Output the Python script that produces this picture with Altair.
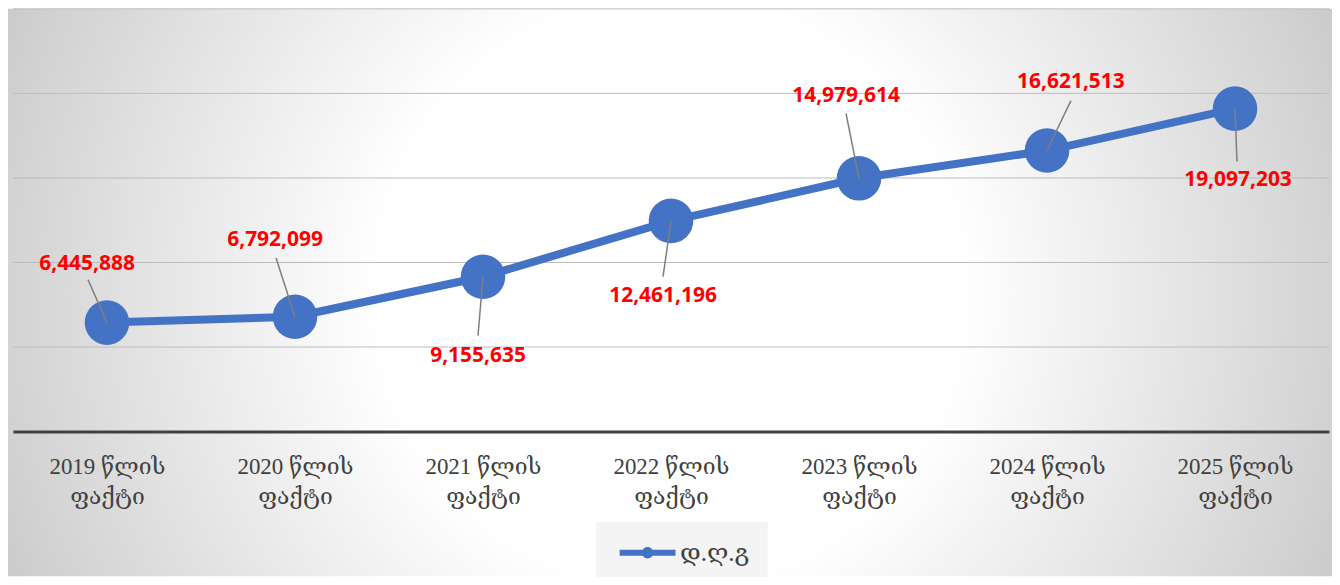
import json
import altair as alt
import pandas as pd

# ---- data -------------------------------------------------------------
years = ["2019", "2020", "2021", "2022", "2023", "2024", "2025"]
category_line1 = [f"{y} წლის" for y in years]
category_line2 = ["ფაქტი"] * 7
values = [6445888, 6792099, 9155635, 12461196, 14979614, 16621513, 19097203]
series_name = "დ.ღ.გ"
grid_values = [5_000_000, 10_000_000, 15_000_000, 20_000_000, 25_000_000]

# label placement (pixel offsets from the point; layout only)
label_dx = [-20, -20, -5, -8, -13, 24, 3]
label_dy = [-59, -77, 79, 75, -83, -69, 72]
leader_dx = [-19, -19, -5, -8, -13, 24, 2]
leader_dy = [-43, -59, 59, 56, -65, -50, 53]

# ---- layout -----------------------------------------------------------
W, H = 1320, 424
Y_MAX = 25_000_000
X_MIN, X_MAX = -0.5, 6.5
px_x = (X_MAX - X_MIN) / W
px_y = Y_MAX / H

df = pd.DataFrame({
    "idx": list(range(len(years))),
    "value": values,
    "series": [series_name] * len(years),
})
df["lab_x"] = df["idx"] + pd.Series(label_dx) * px_x
df["lab_y"] = df["value"] - pd.Series(label_dy) * px_y
df["lead_x"] = df["idx"] + pd.Series(leader_dx) * px_x
df["lead_y"] = df["value"] - pd.Series(leader_dy) * px_y

labels_arr = [[a, b] for a, b in zip(category_line1, category_line2)]
label_expr = json.dumps(labels_arr, ensure_ascii=False) + "[datum.value]"

x_scale = alt.Scale(domain=[X_MIN, X_MAX], nice=False, zero=False)
y_scale = alt.Scale(domain=[0, Y_MAX], nice=False)

BLUE = "#4472C4"
SERIF = "Liberation Serif, DejaVu Serif, serif"

base = alt.Chart(df)

bg = alt.Chart(pd.DataFrame({"a": [0]})).mark_rect(
    color=alt.RadialGradient(
        gradient="radial",
        x1=0.5, y1=0.5, r1=0,
        x2=0.5, y2=0.5, r2=0.55,
        stops=[
            alt.GradientStop(color="#ffffff", offset=0),
            alt.GradientStop(color="#ffffff", offset=0.4),
            alt.GradientStop(color="#e8e8e8", offset=0.67),
            alt.GradientStop(color="#d2d2d2", offset=0.92),
            alt.GradientStop(color="#cacaca", offset=1),
        ],
    )
).encode(
    x=alt.value(-5), x2=alt.value(W + 3),
    y=alt.value(0), y2=alt.value(H + 145),
)

grid = alt.Chart(pd.DataFrame({"g": grid_values})).mark_rule(
    color="#bdbdbd", strokeWidth=1
).encode(
    y=alt.Y("g:Q", scale=y_scale, axis=None),
    x=alt.value(0), x2=alt.value(W),
)

line = base.mark_line(color=BLUE, strokeWidth=8).encode(
    x=alt.X("idx:Q", scale=x_scale,
            axis=alt.Axis(values=list(range(len(years))), labelExpr=label_expr,
                          title=None, grid=False, ticks=False, tickSize=0,
                          domain=True, domainColor="#404040", domainWidth=3,
                          labelFont=SERIF, labelFontSize=23, labelColor="#404040",
                          labelLineHeight=30, labelPadding=24, labelFlush=False,
                          labelOverlap=False, labelBound=False, zindex=1)),
    y=alt.Y("value:Q", scale=y_scale, axis=None),
)

legend_path = ("M-4.67,-0.5L4.67,-0.5L4.67,0.5L-4.67,0.5Z"
               "M0.95,0A0.95,0.95 0 1,1 -0.95,0A0.95,0.95 0 1,1 0.95,0Z")

points = base.mark_circle(size=2000, opacity=1).encode(
    x=alt.X("idx:Q", scale=x_scale),
    y=alt.Y("value:Q", scale=y_scale, axis=None),
    color=alt.Color("series:N",
                    scale=alt.Scale(domain=[series_name], range=[BLUE]),
                    legend=alt.Legend(title=None, orient="none",
                                      legendX=585, legendY=515,
                                      symbolType=legend_path, symbolSize=144,
                                      symbolStrokeWidth=0, symbolOpacity=1,
                                      symbolFillColor=BLUE,
                                      fillColor="#f4f4f4", padding=18,
                                      symbolOffset=21, labelOffset=20,
                                      labelFont=SERIF, labelFontSize=25,
                                      labelColor="#404040")),
)

leaders = base.mark_rule(color="#7f7f7f", strokeWidth=1.5).encode(
    x=alt.X("idx:Q", scale=x_scale),
    y=alt.Y("value:Q", scale=y_scale, axis=None),
    x2="lead_x:Q",
    y2="lead_y:Q",
)

texts = base.mark_text(font="Open Sans", fontWeight="bold", fontSize=21,
                       color="#ff0000", align="center", baseline="middle").encode(
    x=alt.X("lab_x:Q", scale=x_scale),
    y=alt.Y("lab_y:Q", scale=y_scale, axis=None),
    text=alt.Text("value:Q", format=","),
)

chart = alt.layer(bg, grid, line, points, leaders, texts).properties(
    width=W, height=H,
    autosize=alt.AutoSizeParams(type="none"),
    padding={"left": 5, "top": 0, "right": 3, "bottom": 145},
    background="white",
).configure_view(stroke=None)

chart.save("out.html", embed_options={"renderer": "svg", "actions": False})
